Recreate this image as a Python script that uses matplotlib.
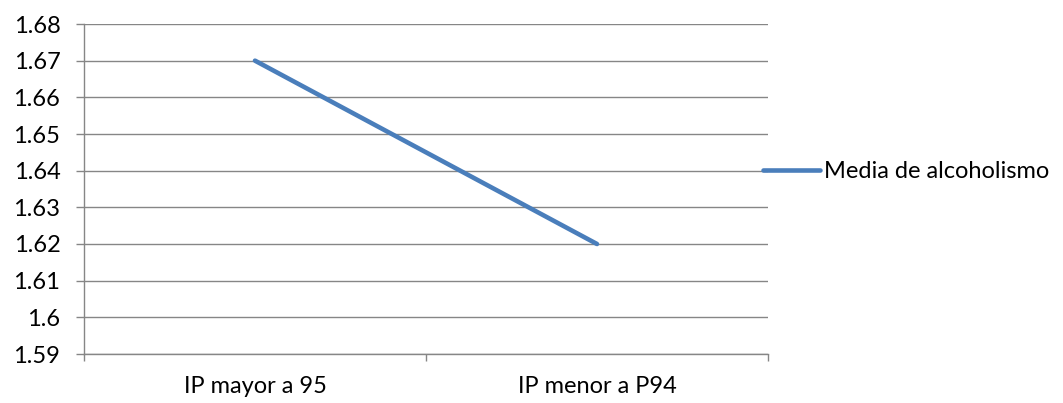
import matplotlib.pyplot as plt
import numpy as np

# categories and mean values
categorias = ["IP mayor a 95", "IP menor a P94"]
media = [1.67, 1.62]
yticks = [1.59, 1.60, 1.61, 1.62, 1.63, 1.64, 1.65, 1.66, 1.67, 1.68]
ylabels = ["1.59", "1.6", "1.61", "1.62", "1.63", "1.64", "1.65", "1.66", "1.67", "1.68"]

plt.rcParams['font.family'] = ['Lato', 'DejaVu Sans']

fig = plt.figure(figsize=(10.63, 4.03), dpi=100)
ax = fig.add_axes([84/1063, 1-354/403, (768-84)/1063, (354-24)/403])

gris = '#868686'
x = np.arange(len(categorias))
ax.plot(x, media, color='#4A7EBB', linewidth=3.3, solid_capstyle='round',
        label='Media de alcoholismo', zorder=3)

ax.set_xlim(-0.5, len(categorias) - 0.5)
ax.set_ylim(1.59, 1.68)
ax.set_yticks(yticks)
ax.set_yticklabels(ylabels)
ax.set_xticks(x)
ax.set_xticklabels(categorias)
ax.set_xticks(np.arange(-0.5, len(categorias)), minor=True)

# grid lines and axis styling
ax.grid(axis='y', color=gris, linewidth=1)
ax.set_axisbelow(True)
for s in ['top', 'right']:
    ax.spines[s].set_visible(False)
for s in ['left', 'bottom']:
    ax.spines[s].set_color(gris)
    ax.spines[s].set_linewidth(1)
fs = 17
ax.tick_params(axis='y', length=6, width=1, color=gris, labelsize=fs, pad=11)
ax.tick_params(axis='x', which='major', length=0, labelsize=fs, pad=16)
ax.tick_params(axis='x', which='minor', length=5, width=1, color=gris)

# legend on the right
fig.legend(loc='center left', bbox_to_anchor=(763/1063, 1-172/403), frameon=False,
           fontsize=fs, handlelength=2.4, handletextpad=0.2, borderpad=0, borderaxespad=0)

plt.savefig('out.png', dpi=100)
